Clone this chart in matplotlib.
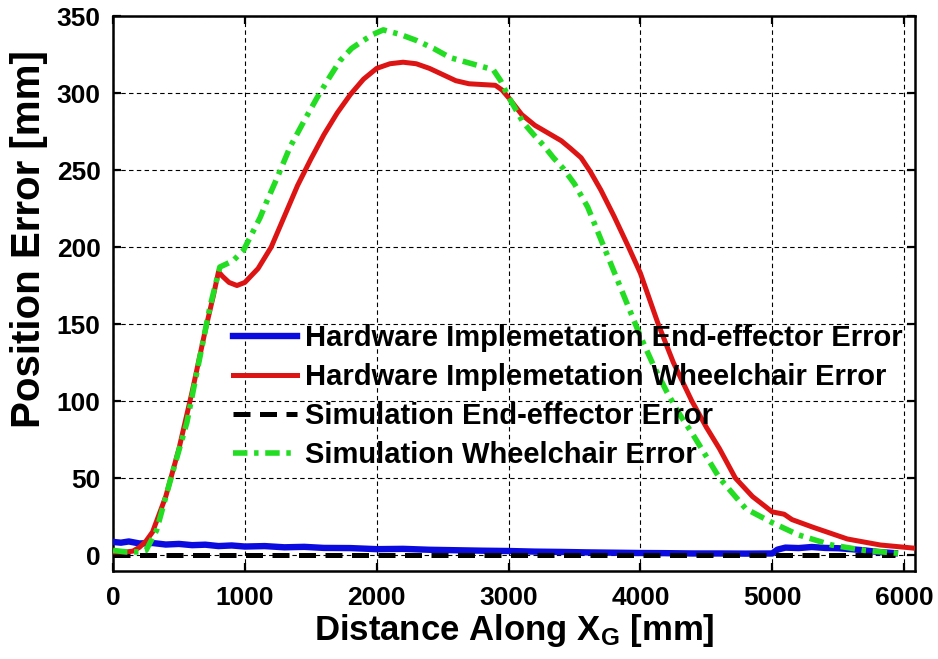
import matplotlib
matplotlib.use("Agg")
import matplotlib.pyplot as plt

plt.rcParams['font.family'] = ['Liberation Sans', 'DejaVu Sans']
plt.rcParams['font.weight'] = 'bold'
plt.rcParams['mathtext.fontset'] = 'custom'
plt.rcParams['mathtext.rm'] = 'Liberation Sans:bold'
plt.rcParams['mathtext.bf'] = 'Liberation Sans:bold'
plt.rcParams['mathtext.it'] = 'Liberation Sans:bold'

# Hardware wheelchair position error [mm] vs distance along X_G [mm]
hw_wc_x = [0, 100, 150, 200, 250, 300, 400, 500, 600, 700, 760, 800, 830, 880,
           940, 1000, 1100, 1200, 1300, 1400, 1500, 1600, 1700, 1800, 1900,
           2000, 2100, 2200, 2300, 2400, 2500, 2600, 2700, 2800, 2900, 2950,
           3000, 3100, 3200, 3300, 3400, 3470, 3550, 3620, 3700, 3800, 3910,
           4000, 4135, 4250, 4390, 4500, 4600, 4720, 4850, 5000, 5060, 5090,
           5150, 5310, 5570, 5820, 6070, 6100]
hw_wc_y = [2, 2, 2.5, 5, 9, 15, 38, 69, 106, 146, 168, 184, 181, 177,
           175, 177, 186, 200, 220, 240, 257, 273, 287, 299, 309,
           316, 319, 320, 319, 316, 312, 308, 306, 305.5, 305, 302,
           297, 286, 279, 274, 269, 264, 258, 249, 237, 220, 200,
           183, 150, 125, 100, 83, 69, 50, 38, 28, 27, 26.5,
           23, 18, 10.4, 6.5, 4.5, 4]

# Simulation wheelchair position error
sim_wc_x = [0, 100, 200, 250, 330, 430, 560, 660, 735, 810, 860, 910, 990,
            1115, 1168, 1245, 1343, 1450, 1548, 1640, 1722, 1810, 1897, 1970,
            2050, 2180, 2305, 2430, 2557, 2680, 2807, 2885, 2940, 2990, 3050,
            3110, 3190, 3265, 3340, 3415, 3500, 3600, 3700, 3800, 3900, 4000,
            4100, 4200, 4300, 4400, 4500, 4600, 4800, 5000, 5200, 5450, 5700,
            5970]
sim_wc_y = [3, 2, 2, 3, 16, 47, 86, 129, 161, 187, 189, 191, 198,
            219, 230, 245, 265, 282, 297, 310, 321, 329, 334, 338,
            341, 338, 334, 329, 323, 320, 317, 315, 308, 299, 290,
            281, 273, 266, 258, 251, 241, 226, 205, 184, 163, 142,
            123, 106, 91, 78, 64, 50, 30, 21, 13, 6.5, 3,
            1]

# Hardware end-effector position error
hw_ee_x = [0, 60, 120, 200, 300, 400, 500, 600, 700, 800, 900, 1000, 1150,
           1300, 1450, 1600, 1800, 2000, 2200, 2400, 2600, 2800, 3000, 3200,
           3400, 3600, 3800, 4000, 4200, 4400, 4600, 4800, 5000, 5040, 5100,
           5200, 5300, 5400, 5500, 5600, 5700, 5800, 5930]
hw_ee_y = [8.5, 8, 8.8, 7.5, 7.8, 6.8, 7.2, 6.4, 6.7, 5.8, 6.2, 5.5, 5.8,
           5.0, 5.3, 4.6, 4.5, 3.8, 4.0, 3.4, 3.1, 2.8, 2.6, 2.2,
           2.0, 1.7, 1.5, 1.3, 1.2, 1.0, 1.0, 0.9, 1.0, 3.5, 4.8,
           4.5, 5.2, 4.6, 4.4, 3.8, 3.0, 2.0, 1.2]

# Simulation end-effector position error
sim_ee_x = [0, 5930]
sim_ee_y = [0, 0]

x_ticks = [0, 1000, 2000, 3000, 4000, 5000, 6000]
y_ticks = [0, 50, 100, 150, 200, 250, 300, 350]

labels = ['Hardware Implemetation End-effector Error',
          'Hardware Implemetation Wheelchair Error',
          'Simulation End-effector Error',
          'Simulation Wheelchair Error']

fig = plt.figure(figsize=(9.38, 6.59), dpi=100)
ax = fig.add_axes([0.1205, 0.1335, 0.855, 0.8422])

ax.plot(hw_ee_x, hw_ee_y, color='#0b0be0', lw=4.6, label=labels[0], zorder=3)
ax.plot(hw_wc_x, hw_wc_y, color='#dd1414', lw=3.6, label=labels[1], zorder=4)
ax.plot(sim_ee_x, sim_ee_y, color='black', lw=3.6, dashes=(3.4, 1.9),
        label=labels[2], zorder=3)
ax.plot(sim_wc_x, sim_wc_y, color='#22dd22', lw=4.0,
        dashes=(2.6, 1.2, 0.8, 1.2), label=labels[3], zorder=5)

ax.set_xlim(0, 6083)
ax.set_ylim(-10.4, 350)
ax.set_xticks(x_ticks)
ax.set_yticks(y_ticks)
ax.grid(True, color='black', lw=0.8, dashes=(4, 3))

for sp in ax.spines.values():
    sp.set_linewidth(1.8)
ax.tick_params(direction='in', length=6, width=1.6, top=True, right=True,
               labelsize=19, pad=9)
ax.tick_params(axis='x', pad=11)
for lbl in ax.get_xticklabels() + ax.get_yticklabels():
    lbl.set_fontweight('bold')

ax.set_xlabel(r'Distance Along X$_{\mathbf{G}}$ [mm]', fontsize=25,
              fontweight='bold', labelpad=1)
ax.set_ylabel('Position Error [mm]', fontsize=29, fontweight='bold')
ax.yaxis.set_label_coords(-0.081, 0.598)

leg = ax.legend(loc='upper left', bbox_to_anchor=(0.1496, 0.445),
                frameon=False, fontsize=21, handlelength=2.2,
                handletextpad=0.27, labelspacing=0.38, borderaxespad=0,
                borderpad=0)
for t in leg.get_texts():
    t.set_fontweight('bold')

fig.savefig('out.png', dpi=100)
